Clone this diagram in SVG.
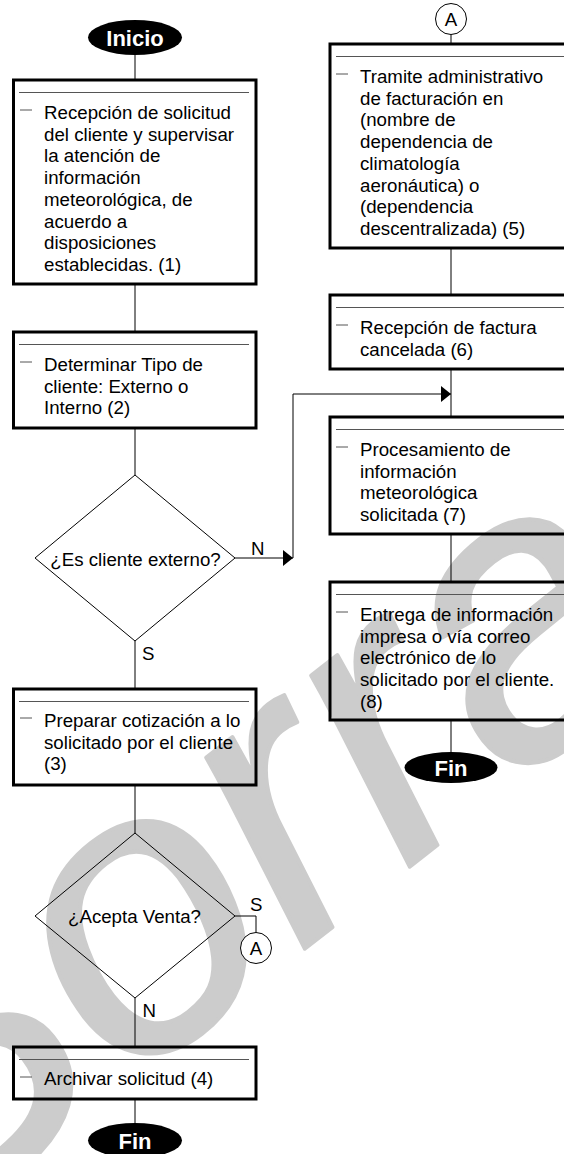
<svg xmlns="http://www.w3.org/2000/svg" width="564" height="1154" viewBox="0 0 564 1154">
<style>
.t{font-family:"Liberation Sans",Arial,sans-serif;font-size:18.7px;fill:#000}
.tb{font-family:"Liberation Sans",Arial,sans-serif;font-size:22px;font-weight:bold;fill:#fff;text-anchor:middle}
.box{fill:none;stroke:#000;stroke-width:3}
.inner{stroke:#555;stroke-width:1}
.dash{stroke:#555;stroke-width:1}
.c{fill:none;stroke:#000;stroke-width:1}
.mid{text-anchor:middle}
.wm{font-family:"Liberation Sans",Arial,sans-serif;font-size:400px;font-style:italic;fill:#cccccc;stroke:#cccccc;stroke-width:4;stroke-linejoin:round}
</style>
<defs>
<marker id="arr" viewBox="0 0 10 16" refX="10" refY="8" markerWidth="10" markerHeight="16" markerUnits="userSpaceOnUse" orient="auto">
<path d="M0,0 L10,8 L0,16 Z" fill="#000"/>
</marker>
</defs>
<rect width="564" height="1154" fill="#fff"/>
<text class="wm" transform="translate(-86,1254) rotate(-38)">Borrador</text>

<g id="connectors">
<path class="c" d="M135,55 V80"/>
<path class="c" d="M135,284 V332"/>
<path class="c" d="M135,428 V475"/>
<path class="c" d="M235,558 H293" marker-end="url(#arr)"/>
<path class="c" d="M293,558 V394 H451" marker-end="url(#arr)"/>
<path class="c" d="M135,641 V689"/>
<path class="c" d="M135,785 V833"/>
<path class="c" d="M235,916 H256 V932.5"/>
<path class="c" d="M135,998 V1047"/>
<path class="c" d="M135,1099 V1123"/>
<path class="c" d="M451,34.5 V44"/>
<path class="c" d="M451,248 V295"/>
<path class="c" d="M451,369 V417"/>
<path class="c" d="M451,534 V582"/>
<path class="c" d="M451,720 V752"/>
<text class="t" x="251" y="555">N</text>
<text class="t" x="142" y="660">S</text>
<text class="t" x="250" y="911">S</text>
<text class="t" x="142.5" y="1017">N</text>
</g>

<g id="inicio">
<ellipse cx="135" cy="37.5" rx="47" ry="17.5" fill="#000"/>
<text class="tb" x="135" y="45.5">Inicio</text>
</g>

<g id="box1">
<rect class="box" x="13.5" y="80" width="242.5" height="204"/>
<line class="inner" x1="19" y1="92.5" x2="249" y2="92.5"/>
<line class="dash" x1="20" y1="110" x2="32" y2="110"/>
<text class="t" x="44" y="119">Recepción de solicitud</text>
<text class="t" x="44" y="140.7">del cliente y supervisar</text>
<text class="t" x="44" y="162.4">la atención de</text>
<text class="t" x="44" y="184.1">información</text>
<text class="t" x="44" y="205.8">meteorológica, de</text>
<text class="t" x="44" y="227.5">acuerdo a</text>
<text class="t" x="44" y="249.2">disposiciones</text>
<text class="t" x="44" y="270.9">establecidas. (1)</text>
</g>

<g id="box2">
<rect class="box" x="13.5" y="332" width="242.5" height="96"/>
<line class="inner" x1="19" y1="344.5" x2="249" y2="344.5"/>
<line class="dash" x1="20" y1="362" x2="32" y2="362"/>
<text class="t" x="44" y="371">Determinar Tipo de</text>
<text class="t" x="44" y="392.7">cliente: Externo o</text>
<text class="t" x="44" y="414.4">Interno (2)</text>
</g>

<g id="decision1">
<polygon points="135,475 235,558 135,641 35,558" fill="none" stroke="#000" stroke-width="1"/>
<text class="t mid" x="135.5" y="566">¿Es cliente externo?</text>
</g>

<g id="box3">
<rect class="box" x="13.5" y="689" width="242.5" height="96"/>
<line class="inner" x1="19" y1="701.5" x2="249" y2="701.5"/>
<line class="dash" x1="20" y1="718" x2="32" y2="718"/>
<text class="t" x="44" y="727">Preparar cotización a lo</text>
<text class="t" x="44" y="748.7">solicitado por el cliente</text>
<text class="t" x="44" y="770.4">(3)</text>
</g>

<g id="decision2">
<polygon points="135,833 235,916 135,998 35,916" fill="none" stroke="#000" stroke-width="1"/>
<text class="t mid" x="134.5" y="923">¿Acepta Venta?</text>
</g>

<g id="connA1">
<circle cx="256" cy="948" r="15.5" fill="#fff" stroke="#000" stroke-width="1"/>
<text class="t mid" x="256" y="955">A</text>
</g>

<g id="box4">
<rect class="box" x="13.5" y="1047" width="242.5" height="52"/>
<line class="inner" x1="19" y1="1059.5" x2="249" y2="1059.5"/>
<line class="dash" x1="20" y1="1077" x2="32" y2="1077"/>
<text class="t" x="44" y="1085">Archivar solicitud (4)</text>
</g>

<g id="fin1">
<ellipse cx="135" cy="1140.5" rx="47" ry="17.5" fill="#000"/>
<text class="tb" x="135" y="1148.5">Fin</text>
</g>

<g id="connA2">
<circle cx="451" cy="19" r="15.5" fill="#fff" stroke="#000" stroke-width="1"/>
<text class="t mid" x="451" y="26">A</text>
</g>

<g id="box5">
<rect class="box" x="330" y="44" width="243" height="204"/>
<line class="inner" x1="336" y1="56.5" x2="566" y2="56.5"/>
<line class="dash" x1="336" y1="74" x2="348" y2="74"/>
<text class="t" x="360" y="83">Tramite administrativo</text>
<text class="t" x="360" y="104.7">de facturación en</text>
<text class="t" x="360" y="126.4">(nombre de</text>
<text class="t" x="360" y="148.1">dependencia de</text>
<text class="t" x="360" y="169.8">climatología</text>
<text class="t" x="360" y="191.5">aeronáutica) o</text>
<text class="t" x="360" y="213.2">(dependencia</text>
<text class="t" x="360" y="234.9">descentralizada) (5)</text>
</g>

<g id="box6">
<rect class="box" x="330" y="295" width="243" height="74"/>
<line class="inner" x1="336" y1="307.5" x2="566" y2="307.5"/>
<line class="dash" x1="336" y1="325" x2="348" y2="325"/>
<text class="t" x="360" y="334">Recepción de factura</text>
<text class="t" x="360" y="355.7">cancelada (6)</text>
</g>

<g id="box7">
<rect class="box" x="330" y="417" width="243" height="117"/>
<line class="inner" x1="336" y1="429.5" x2="566" y2="429.5"/>
<line class="dash" x1="336" y1="447" x2="348" y2="447"/>
<text class="t" x="360" y="456">Procesamiento de</text>
<text class="t" x="360" y="477.7">información</text>
<text class="t" x="360" y="499.4">meteorológica</text>
<text class="t" x="360" y="521.1">solicitada (7)</text>
</g>

<g id="box8">
<rect class="box" x="330" y="582" width="243" height="138"/>
<line class="inner" x1="336" y1="594.5" x2="566" y2="594.5"/>
<line class="dash" x1="336" y1="612" x2="348" y2="612"/>
<text class="t" x="360" y="621">Entrega de información</text>
<text class="t" x="360" y="642.7">impresa o vía correo</text>
<text class="t" x="360" y="664.4">electrónico de lo</text>
<text class="t" x="360" y="686.1">solicitado por el cliente.</text>
<text class="t" x="360" y="707.8">(8)</text>
</g>

<g id="fin2">
<ellipse cx="451" cy="767.5" rx="46.5" ry="15.5" fill="#000"/>
<text class="tb" x="451" y="775.5">Fin</text>
</g>
</svg>
